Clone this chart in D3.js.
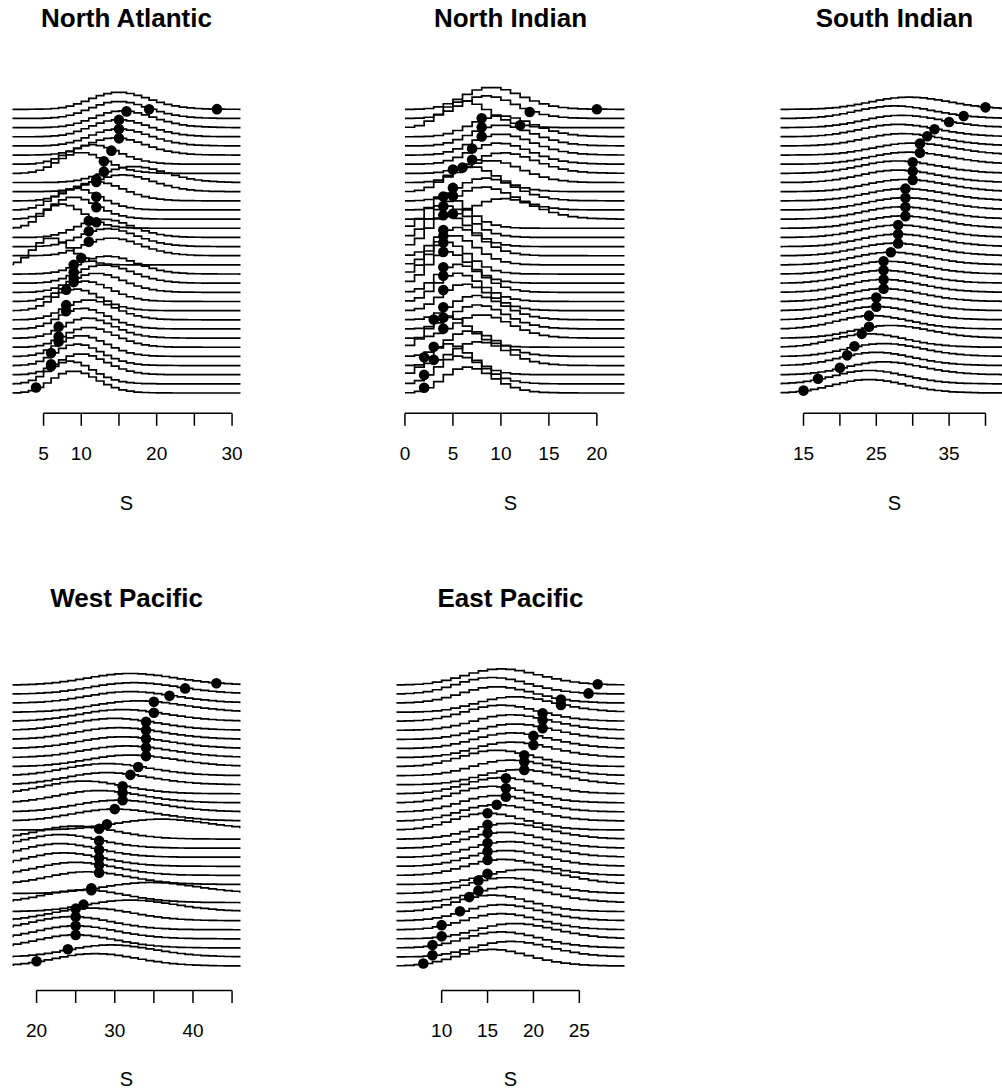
<!DOCTYPE html>
<html>
<head>
<meta charset="utf-8">
<script src="https://cdnjs.cloudflare.com/ajax/libs/d3/7.8.5/d3.min.js"></script>
<style>
  html, body { margin: 0; padding: 0; background: #fff; }
  svg { display: block; }
  text { font-family: "Liberation Sans", Arial, Helvetica, sans-serif; fill: #000; }
</style>
</head>
<body>
<svg id="chart" width="1002" height="1090"></svg>
<script>
// Annual storm counts per basin (sorted, bottom row = lowest count)
// and the Poisson mean of the predictive distribution for each row.
const basins = ["North Atlantic", "North Indian", "South Indian", "West Pacific", "East Pacific"];

const naObs = [4, 6, 6, 6, 7, 7, 7, 8, 8, 8, 9, 9, 9, 9, 10, 11, 11, 11, 12, 12, 12, 12, 12, 13, 13, 14, 15, 15, 15, 16, 19, 28];
const naMu  = [9, 8.5, 10, 9.5, 10, 11, 10.8, 10.2, 11, 9.3, 10.5, 12, 13, 13.5, 6, 14, 13.5, 13, 7.5, 9, 9.3, 12, 15.5, 17, 10, 11.5, 14.5, 15, 15, 15.5, 15, 15];

const niObs = [2, 2, 2, 3, 3, 3, 4, 4, 4, 4, 4, 4, 4, 4, 4, 4, 4, 4, 4, 5, 5, 5, 5, 6, 7, 7, 8, 8, 8, 12, 13, 20];
const niMu  = [6.5, 5.7, 4.6, 7.7, 6.8, 4.5, 8, 7.6, 7.4, 6.2, 5.5, 5.6, 4.5, 4.4, 5, 5.5, 4.5, 4.5, 4.3, 10.3, 8.2, 8.4, 6.8, 9, 10.3, 9.8, 10, 10, 10, 6.2, 8.5, 9];

const siObs = [15, 17, 20, 21, 22, 23, 24, 24, 25, 25, 26, 26, 26, 26, 27, 28, 28, 28, 29, 29, 29, 29, 30, 30, 30, 31, 31, 32, 33, 35, 37, 40];
const siMu  = [24, 24, 26, 25, 26, 24, 27, 24.5, 25, 25.5, 26, 26, 26, 26.5, 27, 27.5, 28, 28, 28.5, 28.5, 29, 29, 29, 28, 28, 29.5, 30, 28.7, 28, 28.5, 27.5, 29.5];

const wpObs = [20, 24, 25, 25, 25, 25, 26, 27, 27, 28, 28, 28, 28, 28, 28, 29, 30, 31, 31, 31, 32, 33, 34, 34, 34, 34, 34, 35, 35, 37, 39, 43];
const wpMu  = [27.5, 29.5, 25, 25, 24.5, 27, 32, 26, 34.5, 26.5, 25, 23.5, 23, 23, 25, 36, 30, 30.5, 28, 26, 29, 29, 32, 31.5, 31, 30.5, 30, 31, 33, 32, 32.5, 32];

const epObs = [8, 9, 9, 10, 10, 12, 13, 14, 14, 15, 15, 15, 15, 15, 15, 15, 16, 17, 17, 17, 19, 19, 19, 20, 20, 21, 21, 21, 23, 23, 26, 27];
const epMu  = [15.5, 17.5, 16.5, 18, 16.5, 16.5, 15.5, 17.5, 17, 19, 16.7, 17, 17.3, 16.8, 17.3, 15, 16, 16, 15.5, 16.5, 18.5, 17.5, 16, 17.7, 17.7, 18, 17.6, 16.5, 18, 16, 15.5, 16.5];

// x-axis ticks and the labels that are printed under them
const naTicks = [5, 10, 15, 20, 25, 30],  naTickLabels = ["5", "10", "", "20", "", "30"];
const niTicks = [0, 5, 10, 15, 20],       niTickLabels = ["0", "5", "10", "15", "20"];
const siTicks = [15, 20, 25, 30, 35, 40], siTickLabels = ["15", "", "25", "", "35", ""];
const wpTicks = [20, 25, 30, 35, 40, 45], wpTickLabels = ["20", "", "30", "", "40", ""];
const epTicks = [10, 15, 20, 25],         epTickLabels = ["10", "15", "20", "25"];

// x limits of each panel (the plot region adds 4% on either side)
const naXlim = [2, 30], niXlim = [0, 22], siXlim = [13, 42], wpXlim = [18, 45], epXlim = [6, 29];

const panels = [
  { title: basins[0], obs: naObs, mu: naMu, ticks: naTicks, labels: naTickLabels, xlim: naXlim, col: 0, row: 0 },
  { title: basins[1], obs: niObs, mu: niMu, ticks: niTicks, labels: niTickLabels, xlim: niXlim, col: 1, row: 0 },
  { title: basins[2], obs: siObs, mu: siMu, ticks: siTicks, labels: siTickLabels, xlim: siXlim, col: 2, row: 0 },
  { title: basins[3], obs: wpObs, mu: wpMu, ticks: wpTicks, labels: wpTickLabels, xlim: wpXlim, col: 0, row: 1 },
  { title: basins[4], obs: epObs, mu: epMu, ticks: epTicks, labels: epTickLabels, xlim: epXlim, col: 1, row: 1 }
];

// ---- layout ----
const colLeft = [12.5, 396.5, 780.5];
const plotW = 228;
const rowGeom = [
  { base0: 393, baseTop: 109.3, titleY: 27.3, axisY: 413.3, labelY: 460, xlabY: 510 },
  { base0: 966, baseTop: 685,   titleY: 607.3, axisY: 990.5, labelY: 1037, xlabY: 1086 }
];
const heightScale = 18;   // density height, in row units per unit probability
const tickLen = 12.5;

function poissonPmf(mu, kMax) {
  const p = [Math.exp(-mu)];
  for (let k = 1; k <= kMax; k++) p.push(p[k - 1] * mu / k);
  return p;
}

const svg = d3.select("#chart");

panels.forEach((P, pi) => {
  const g = rowGeom[P.row];
  const left = colLeft[P.col];
  const span = P.xlim[1] - P.xlim[0];
  const x = d3.scaleLinear()
    .domain([P.xlim[0] - 0.04 * span, P.xlim[1] + 0.04 * span])
    .range([left, left + plotW]);
  const n = P.obs.length;
  const y = d3.scaleLinear().domain([0, n - 1]).range([g.base0, g.baseTop]);

  const clipId = "clip" + pi;
  svg.append("clipPath").attr("id", clipId)
    .append("rect").attr("x", left).attr("y", g.baseTop - 60)
    .attr("width", plotW).attr("height", g.base0 - g.baseTop + 80);

  const panel = svg.append("g");
  const curves = panel.append("g").attr("clip-path", `url(#${clipId})`);

  const kMax = 70;
  const line = d3.line()
    .x(d => x(d.k))
    .y(d => y(d.row + heightScale * d.p))
    .curve(d3.curveStepAfter);

  const dots = [];
  P.obs.forEach((o, i) => {
    const pmf = poissonPmf(P.mu[i], kMax);
    const pts = pmf.map((p, k) => ({ k, p, row: i }));
    curves.append("path")
      .attr("d", line(pts))
      .attr("fill", "none")
      .attr("stroke", "#000")
      .attr("stroke-width", 1.7)
      .attr("stroke-linejoin", "miter");
    dots.push({ x: o, row: i, p: pmf[o] });
  });

  panel.append("g").selectAll("circle")
    .data(dots)
    .join("circle")
    .attr("cx", d => x(d.x))
    .attr("cy", d => y(d.row + heightScale * d.p))
    .attr("r", 5.3)
    .attr("fill", "#000");

  // title
  panel.append("text")
    .attr("x", left + plotW / 2)
    .attr("y", g.titleY)
    .attr("text-anchor", "middle")
    .attr("font-size", 26)
    .attr("font-weight", "bold")
    .text(P.title);

  // x axis: line spans first to last tick, ticks point down
  const ax = panel.append("g");
  ax.append("line")
    .attr("x1", x(P.ticks[0])).attr("x2", x(P.ticks[P.ticks.length - 1]))
    .attr("y1", g.axisY).attr("y2", g.axisY)
    .attr("stroke", "#000").attr("stroke-width", 1.5);
  ax.selectAll("line.tick")
    .data(P.ticks)
    .join("line")
    .attr("class", "tick")
    .attr("x1", d => x(d)).attr("x2", d => x(d))
    .attr("y1", g.axisY).attr("y2", g.axisY + tickLen)
    .attr("stroke", "#000").attr("stroke-width", 1.5);
  ax.selectAll("text.tl")
    .data(P.ticks.map((t, i) => ({ t, lab: P.labels[i] })).filter(d => d.lab !== ""))
    .join("text")
    .attr("class", "tl")
    .attr("x", d => x(d.t))
    .attr("y", g.labelY)
    .attr("text-anchor", "middle")
    .attr("font-size", 19)
    .text(d => d.lab);

  panel.append("text")
    .attr("x", left + plotW / 2)
    .attr("y", g.xlabY)
    .attr("text-anchor", "middle")
    .attr("font-size", 20)
    .text("S");
});
</script>
</body>
</html>
